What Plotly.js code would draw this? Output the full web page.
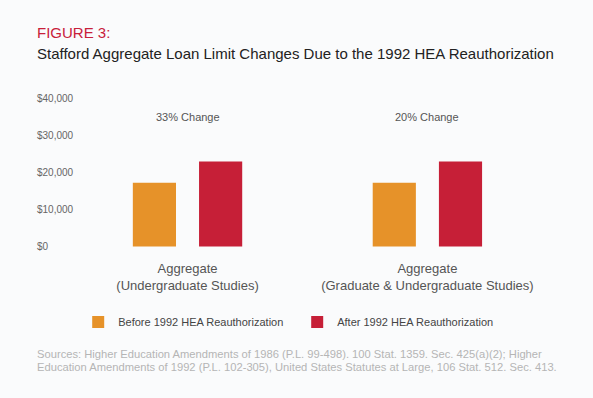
<!DOCTYPE html>
<html><head><meta charset="utf-8">
<script src="https://cdn.plot.ly/plotly-3.0.1.min.js"></script>
<style>html,body{margin:0;padding:0;background:#fafbfc;}#chart{width:593px;height:398px;}</style>
</head><body><div id="chart"></div>
<script>
const categories = ["Aggregate<br>(Undergraduate Studies)", "Aggregate<br>(Graduate & Undergraduate Studies)"];
const beforeValues = [17250, 17250];
const afterValues = [23000, 23000];
const changeLabels = ["33% Change", "20% Change"];
const changeLabelY = [35000, 35000];
const seriesNames = ["Before 1992 HEA Reauthorization", "After 1992 HEA Reauthorization"];
const yTickVals = [0, 10000, 20000, 30000, 40000];
const yTickText = ["$0", "$10,000", "$20,000", "$30,000", "$40,000"];
const figureLabel = "FIGURE 3:";
const titleText = "Stafford Aggregate Loan Limit Changes Due to the 1992 HEA Reauthorization";
const sourceLines = [
  "Sources: Higher Education Amendments of 1986 (P.L. 99-498). 100 Stat. 1359. Sec. 425(a)(2); Higher",
  "Education Amendments of 1992 (P.L. 102-305), United States Statutes at Large, 106 Stat. 512. Sec. 413."
];

const FONT = "Liberation Sans, Arial, sans-serif";
const traces = [
  {type: "bar", x: categories, y: beforeValues, name: seriesNames[0], marker: {color: "#e69229"}, hoverinfo: "none"},
  {type: "bar", x: categories, y: afterValues, name: seriesNames[1], marker: {color: "#c61f37"}, hoverinfo: "none"}
];
const annotations = changeLabels.map((t, i) => ({
  x: categories[i], y: changeLabelY[i], xref: "x", yref: "y", text: t, showarrow: false,
  font: {family: FONT, size: 11, color: "#555"}
}));
annotations.push({xref: "paper", yref: "paper", x: 0.002, y: 1.383, xanchor: "left", yanchor: "middle",
  text: figureLabel, showarrow: false, font: {family: FONT, size: 15, color: "#c8203a"}});
annotations.push({xref: "paper", yref: "paper", x: 0.002, y: 1.251, xanchor: "left", yanchor: "middle",
  text: titleText, showarrow: false, font: {family: FONT, size: 15, color: "#222"}});
const sourceY = [-0.643, -0.724];
sourceLines.forEach((t, i) => annotations.push({xref: "paper", yref: "paper", x: 0.002, y: sourceY[i],
  xanchor: "left", yanchor: "middle", align: "left", text: t, showarrow: false,
  font: {family: FONT, size: 11.2, color: "#b5b5b5"}}));

const layout = {
  width: 593, height: 398,
  paper_bgcolor: "#fafbfc", plot_bgcolor: "#fafbfc",
  margin: {l: 34, r: 20, t: 93, b: 146},
  barmode: "group", bargap: 0.448, bargroupgap: 0.348,
  font: {family: FONT},
  xaxis: {type: "category", range: [-0.64, 1.607], showgrid: false, zeroline: false, showline: false,
    ticks: "outside", ticklen: 4, tickcolor: "rgba(0,0,0,0)",
    tickfont: {family: FONT, size: 13, color: "#555"}},
  yaxis: {range: [-1500, 41500], tickvals: yTickVals, ticktext: yTickText, ticklabelposition: "inside",
    showgrid: false, zeroline: false, showline: false, ticks: "",
    tickfont: {family: FONT, size: 10, color: "#666"}},
  showlegend: true,
  legend: {orientation: "h", x: 0.082, xanchor: "left", y: -0.44, yanchor: "middle",
    font: {family: FONT, size: 11, color: "#444"}, entrywidth: 174, entrywidthmode: "pixels",
    bgcolor: "rgba(0,0,0,0)"},
  annotations: annotations
};
Plotly.newPlot("chart", traces, layout, {displayModeBar: false, staticPlot: true});
</script></body></html>
